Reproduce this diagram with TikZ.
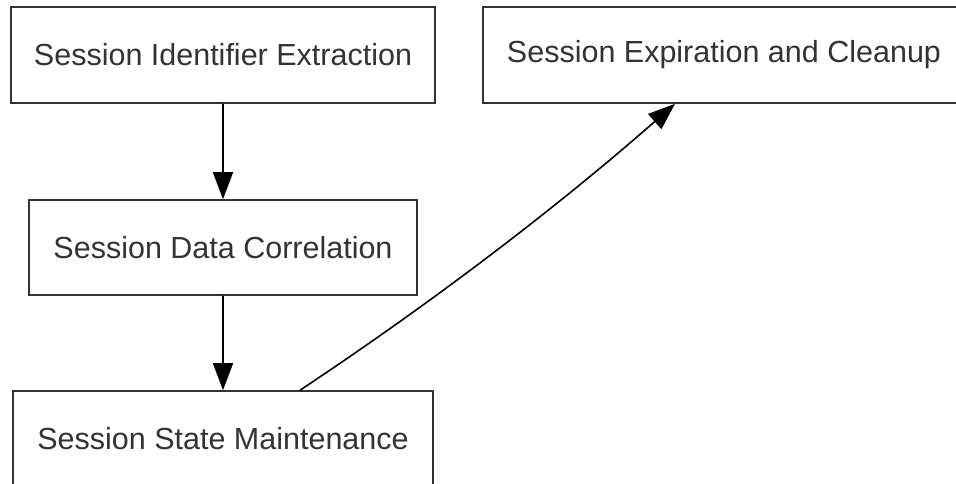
\documentclass[tikz,border=0pt]{standalone}
\usepackage{fontspec}
\setmainfont{Liberation Sans}
\usetikzlibrary{arrows.meta}
\definecolor{ink}{HTML}{333333}
\tikzset{
  stagebox/.style={draw=ink, line width=1.6pt, fill=white, inner sep=0pt,
    text=ink, font=\fontsize{30.5}{36}\selectfont, anchor=center},
  flow/.style={draw=black, line width=1.6pt,
    -{Triangle[length=27pt,width=20pt]}},
}
\begin{document}
\begin{tikzpicture}[x=1pt,y=-1pt]
  \useasboundingbox (0,0) rectangle (956,483);
  \clip (0,0) rectangle (956,483);
  \fill[white] (0,0) rectangle (956,483);

  \node[stagebox, minimum width=424pt, minimum height=96pt] (ident) at (223,55)
    {Session Identifier Extraction};
  \node[stagebox, minimum width=482pt, minimum height=96pt] (expire) at (724,55)
    {Session Expiration and Cleanup};
  \node[stagebox, minimum width=388pt, minimum height=95pt] (corr) at (223,247.5)
    {Session Data Correlation};
  \node[stagebox, minimum width=420pt, minimum height=96pt] (state) at (223,439)
    {Session State Maintenance};

  \coordinate (from) at ([xshift=77pt]state.north);
  \coordinate (to) at ([xshift=-49pt]expire.south);

  \draw[flow] (ident) -- (corr);
  \draw[flow] (corr) -- (state);
  \draw[flow] (from) .. controls (430,304) and (555,209) .. (to);
\end{tikzpicture}
\end{document}
